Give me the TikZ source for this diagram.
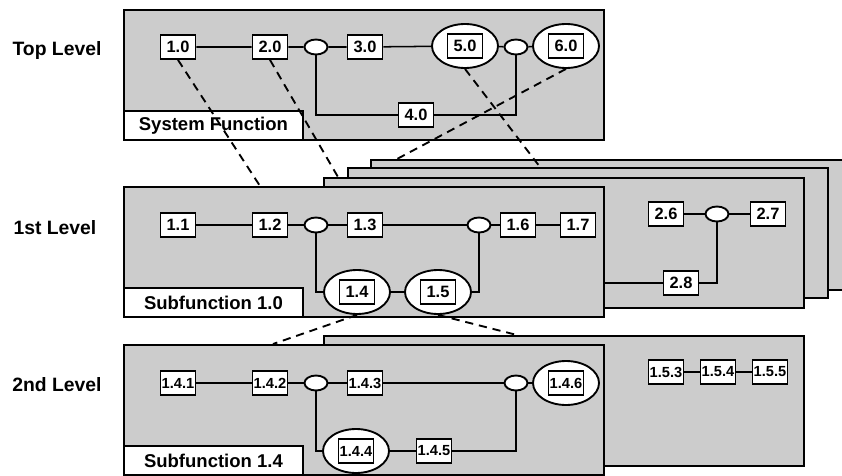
\documentclass[tikz,border=0pt]{standalone}
\usepackage{fontspec}
\setmainfont{Liberation Sans}
\usetikzlibrary{shapes.geometric}
\newlength\pxl
\setlength\pxl{0.03cm}

\begin{document}
\begin{tikzpicture}[
	x=0.03cm, y=-0.03cm,
	font=\bfseries,
	% Styles for the level panels and the function blocks
	levelbox/.style={draw, line width=1.6pt, fill=black!20, anchor=north west, minimum width=480\pxl, minimum height=130\pxl, inner sep=0pt},
	titlebox/.style={draw, line width=1.6pt, fill=white, anchor=south west, minimum width=179\pxl, minimum height=29\pxl, inner sep=0pt, font=\fontsize{15.8}{18}\selectfont\bfseries},
	levellabel/.style={font=\fontsize{16.5}{19}\selectfont\bfseries},
	fbox/.style={draw, line width=1.6pt, fill=white, minimum width=35\pxl, minimum height=24\pxl, inner sep=0pt, font=\fontsize{14}{16}\selectfont\bfseries},
	subbox/.style={fbox, font=\fontsize{12.5}{14}\selectfont\bfseries},
	ebox/.style={ellipse, draw, line width=1.6pt, fill=white, minimum width=66\pxl, minimum height=44\pxl, inner sep=0pt},
	junction/.style={ellipse, draw, line width=1.6pt, fill=white, minimum width=23\pxl, minimum height=15\pxl, inner sep=0pt},
	link/.style={line width=1.3pt},
	dashline/.style={line width=1.6pt, dash pattern=on 7pt off 5pt}
	]
	\useasboundingbox (0,0) rectangle (842,475);
	\clip (0,0) rectangle (842,475);
	
	% ==========================================
	% 1. TOP LEVEL
	% ==========================================
	\node[levellabel] (ltop) at (57,51) {Top Level};
	\node[levelbox] (top) at (123,9) {};
	\node[titlebox] (topname) at (top.south west) {System Function};
	
	\node[fbox] (n10) at (178,47) {1.0};
	\node[fbox] (n20) at (270,47) {2.0};
	\node[junction] (j1) at (316,47) {};
	\node[fbox] (n30) at (365,47) {3.0};
	\node[ebox] (e50) at (465,46) {};
	\node[fbox] (n50) at (e50) {5.0};
	\node[junction] (j2) at (516,47) {};
	\node[ebox] (e60) at (566,46) {};
	\node[fbox] (n60) at (e60) {6.0};
	\node[fbox] (n40) at (416,115) {4.0};
	
	\draw[link] (n10) -- (n20) -- (j1) -- (n30) -- (e50) -- (j2) -- (e60);
	\draw[link] (j1) |- (n40) -| (j2);
	
	% ==========================================
	% 2. 1ST LEVEL
	% ==========================================
	\node[levellabel] (lone) at (55,228) {1st Level};
	% stacked panels behind
	\node[levelbox] (b3) at (370,159) {};
	\node[levelbox] (b2) at (347,167) {};
	\node[levelbox] (b1) at (323,177) {};
	\node[levelbox] (lvl1) at (123,186) {};
	\node[titlebox] (lvl1name) at (lvl1.south west) {Subfunction 1.0};
	
	\node[fbox] (n11) at (178,225) {1.1};
	\node[fbox] (n12) at (270,225) {1.2};
	\node[junction] (k1) at (316,225) {};
	\node[fbox] (n13) at (365,225) {1.3};
	\node[junction] (k2) at (479,225) {};
	\node[fbox] (n16) at (518,225) {1.6};
	\node[fbox] (n17) at (578,225) {1.7};
	\node[ebox] (e14) at (357,292) {};
	\node[fbox] (n14) at (e14) {1.4};
	\node[ebox] (e15) at (438,292) {};
	\node[fbox] (n15) at (e15) {1.5};
	
	\draw[link] (n11) -- (n12) -- (k1) -- (n13) -- (k2) -- (n16) -- (n17);
	\draw[link] (k1) |- (e14);
	\draw[link] (e14) -- (e15);
	\draw[link] (e15) -| (k2);
	
	% function 2.0 shown on the panel behind
	\node[fbox] (n26) at (666,214) {2.6};
	\node[junction] (m1) at (717,214) {};
	\node[fbox] (n27) at (768,214) {2.7};
	\node[fbox] (n28) at (681,283) {2.8};
	
	\draw[link] (n26) -- (m1) -- (n27);
	\draw[link] (lvl1.east |- n28) -- (n28) -| (m1);
	
	% ==========================================
	% 3. 2ND LEVEL
	% ==========================================
	\node[levellabel] (ltwo) at (57,385) {2nd Level};
	\node[levelbox] (c1) at (323,335) {};
	\node[levelbox] (lvl2) at (123,344) {};
	\node[titlebox] (lvl2name) at (lvl2.south west) {Subfunction 1.4};
	
	\node[subbox] (n141) at (178,383) {1.4.1};
	\node[subbox] (n142) at (270,383) {1.4.2};
	\node[junction] (q1) at (316,383) {};
	\node[subbox] (n143) at (365,383) {1.4.3};
	\node[junction] (q2) at (516,383) {};
	\node[ebox] (e146) at (566,383) {};
	\node[subbox] (n146) at (e146) {1.4.6};
	\node[ebox] (e144) at (356,451) {};
	\node[subbox] (n144) at (e144) {1.4.4};
	\node[subbox] (n145) at (434,451) {1.4.5};
	
	\draw[link] (n141) -- (n142) -- (q1) -- (n143) -- (q2) -- (e146);
	\draw[link] (q1) |- (e144);
	\draw[link] (e144) -- (n145);
	\draw[link] (n145) -| (q2);
	
	% function 1.5 shown on the panel behind
	\node[subbox] (n153) at (666,372) {1.5.3};
	\node[subbox] (n154) at (718,372) {1.5.4};
	\node[subbox] (n155) at (770,372) {1.5.5};
	\draw[link] (n153) -- (n154) -- (n155);
	
	% ==========================================
	% 4. DECOMPOSITION LINKS
	% ==========================================
	\coordinate (d10) at (260,186);
	\coordinate (d20) at (338,177);
	\coordinate (d50) at (540,167);
	\coordinate (d60) at (397,159);
	\coordinate (d14) at (273,344);
	\coordinate (d15) at (517,335);
	\draw[dashline] (n10.south) -- (d10);
	\draw[dashline] (n20.south) -- (d20);
	\draw[dashline] (e50.south) -- (d50);
	\draw[dashline] (e60.south) -- (d60);
	\draw[dashline] (e14.south) -- (d14);
	\draw[dashline] (e15.south) -- (d15);
	
\end{tikzpicture}
\end{document}
